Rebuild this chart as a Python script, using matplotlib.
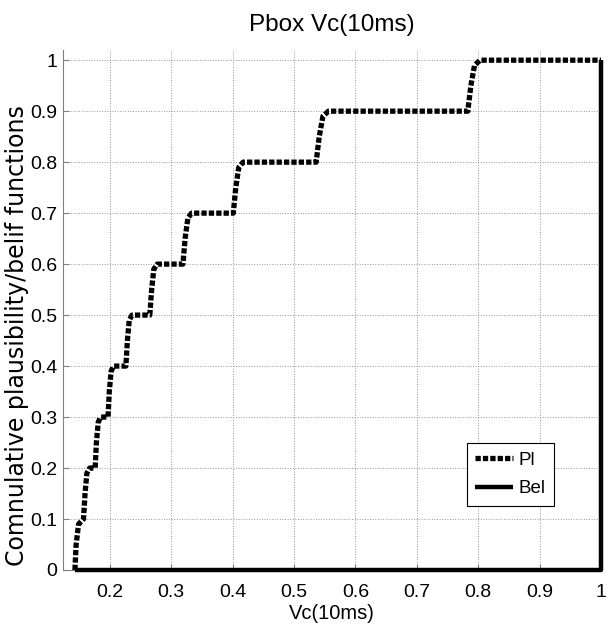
import matplotlib
matplotlib.use("Agg")
import matplotlib.pyplot as plt

# ---- data ----
pl_x = [0.143, 0.145, 0.149, 0.157,
        0.1595, 0.1625, 0.167, 0.176,
        0.178, 0.181, 0.185, 0.197,
        0.199, 0.202, 0.206, 0.226,
        0.2285, 0.2315, 0.236, 0.265,
        0.268, 0.2715, 0.277, 0.319,
        0.3225, 0.327, 0.333, 0.401,
        0.405, 0.410, 0.417, 0.536,
        0.541, 0.547, 0.556, 0.783,
        0.788, 0.794, 0.803, 1.0]
pl_y = [0.0, 0.05, 0.09, 0.1,
        0.15, 0.19, 0.2, 0.2,
        0.25, 0.29, 0.3, 0.3,
        0.35, 0.39, 0.4, 0.4,
        0.45, 0.49, 0.5, 0.5,
        0.55, 0.59, 0.6, 0.6,
        0.65, 0.69, 0.7, 0.7,
        0.75, 0.79, 0.8, 0.8,
        0.85, 0.89, 0.9, 0.9,
        0.95, 0.99, 1.0, 1.0]
bel_x = [0.143, 1.0, 1.0]
bel_y = [0.0, 0.0, 1.0]

xticks = [0.2, 0.3, 0.4, 0.5, 0.6, 0.7, 0.8, 0.9, 1.0]
xticklabels = ["0.2", "0.3", "0.4", "0.5", "0.6", "0.7", "0.8", "0.9", "1"]
yticks = [0, 0.1, 0.2, 0.3, 0.4, 0.5, 0.6, 0.7, 0.8, 0.9, 1.0]
yticklabels = ["0", "0.1", "0.2", "0.3", "0.4", "0.5", "0.6", "0.7", "0.8", "0.9", "1"]

title = "Pbox Vc(10ms)"
xlabel = "Vc(10ms)"
ylabel = "Comnulative plausibility/belif functions"
series_names = ["Pl", "Bel"]

plt.rcParams['font.family'] = ['Liberation Sans', 'DejaVu Sans']

fig = plt.figure(figsize=(6.08, 6.32), dpi=100)
ax = fig.add_axes([63/608, 62/632, 538/608, 520/632])

ax.plot(pl_x, pl_y, color='black', lw=3.8, linestyle=(0, (1, 0.4)),
        dash_capstyle='butt', label=series_names[0], clip_on=False, zorder=3)
ax.plot(bel_x, bel_y, color='black', lw=3.2, solid_capstyle='butt',
        label=series_names[1], clip_on=False, zorder=4)

ax.set_xlim(0.1236, 1.0)
ax.set_ylim(0, 1.02)
ax.set_xticks(xticks)
ax.set_xticklabels(xticklabels)
ax.set_yticks(yticks)
ax.set_yticklabels(yticklabels)
ax.tick_params(direction='in', length=4, width=0.8, color='#808080',
               labelsize=14)
ax.tick_params(axis='x', pad=10)
ax.tick_params(axis='y', pad=4)
ax.grid(True, linestyle=':', color='#959595', linewidth=0.7)

for s in ['top', 'right']:
    ax.spines[s].set_visible(False)
ax.spines['left'].set_color('#808080')
ax.spines['bottom'].set_color('#808080')

ax.set_title(title, fontsize=17.5, pad=14)
ax.set_xlabel(xlabel, fontsize=14.5, labelpad=2)
ax.set_ylabel(ylabel, fontsize=17, family=['DejaVu Sans'])
ax.yaxis.set_label_coords((17 - 63) / 538, (570 - 336) / 520)
ax.yaxis.label.set_va('center')

leg = ax.legend(loc='upper left', bbox_to_anchor=(466.7/608, (632-443.3)/632),
                bbox_transform=fig.transFigure, fontsize=13.5,
                handlelength=2.0, handletextpad=0.3, labelspacing=0.6,
                borderpad=0.45, borderaxespad=0, fancybox=False,
                framealpha=1, edgecolor='black')
leg.get_frame().set_linewidth(0.8)

fig.savefig("out.png", dpi=100)
